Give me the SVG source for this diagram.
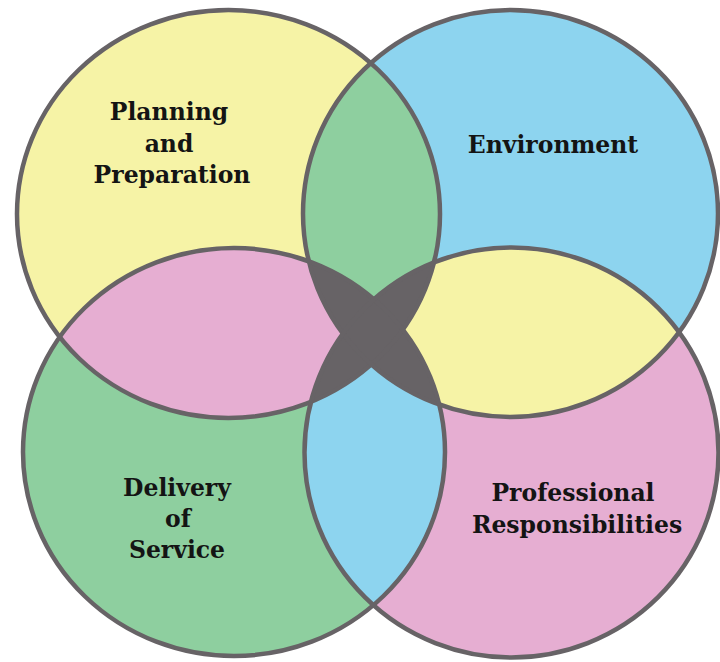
<svg xmlns="http://www.w3.org/2000/svg" width="720" height="662" viewBox="0 0 720 662">
<style>
.ring{fill:none;stroke:#676366;stroke-width:4.5}
.lbl{font-family:"DejaVu Serif","Liberation Serif",serif;font-weight:bold;font-size:23.5px;fill:#141414;text-anchor:middle}
.y{fill:#F6F3A6}.b{fill:#8DD4EF}.g{fill:#8ECF9F}.p{fill:#E6AED2}.d{fill:#676366}
</style>
<defs>
<clipPath id="cTL"><ellipse cx="228.5" cy="214" rx="211.5" ry="204"/></clipPath>
<clipPath id="cTR"><ellipse cx="510.5" cy="213.5" rx="207.5" ry="203.5"/></clipPath>
<clipPath id="cBL"><ellipse cx="234" cy="452" rx="211" ry="204"/></clipPath>
<clipPath id="cBR"><ellipse cx="511.5" cy="452.5" rx="207" ry="205"/></clipPath>
</defs>
<rect width="720" height="662" fill="#ffffff"/>
<g id="fills">
<ellipse class="y" cx="228.5" cy="214" rx="211.5" ry="204"/>
<ellipse class="b" cx="510.5" cy="213.5" rx="207.5" ry="203.5"/>
<ellipse class="g" cx="234" cy="452" rx="211" ry="204"/>
<ellipse class="p" cx="511.5" cy="452.5" rx="207" ry="205"/>
<ellipse class="g" cx="510.5" cy="213.5" rx="207.5" ry="203.5" clip-path="url(#cTL)"/>
<ellipse class="p" cx="234" cy="452" rx="211" ry="204" clip-path="url(#cTL)"/>
<ellipse class="y" cx="511.5" cy="452.5" rx="207" ry="205" clip-path="url(#cTR)"/>
<ellipse class="b" cx="511.5" cy="452.5" rx="207" ry="205" clip-path="url(#cBL)"/>
<ellipse class="d" cx="511.5" cy="452.5" rx="207" ry="205" clip-path="url(#cTL)"/>
<ellipse class="d" cx="234" cy="452" rx="211" ry="204" clip-path="url(#cTR)"/>
</g>
<g id="connectors"></g>
<g id="node-planning">
<ellipse class="ring" cx="228.5" cy="214" rx="211.5" ry="204"/>
<text class="lbl" x="169" y="120">Planning</text>
<text class="lbl" x="169" y="152">and</text>
<text class="lbl" x="172" y="183">Preparation</text>
</g>
<g id="node-environment">
<ellipse class="ring" cx="510.5" cy="213.5" rx="207.5" ry="203.5"/>
<text class="lbl" x="553" y="153">Environment</text>
</g>
<g id="node-delivery">
<ellipse class="ring" cx="234" cy="452" rx="211" ry="204"/>
<text class="lbl" x="177" y="496">Delivery</text>
<text class="lbl" x="178" y="527">of</text>
<text class="lbl" x="177" y="558">Service</text>
</g>
<g id="node-professional">
<ellipse class="ring" cx="511.5" cy="452.5" rx="207" ry="205"/>
<text class="lbl" x="573" y="501">Professional</text>
<text class="lbl" x="577" y="533">Responsibilities</text>
</g>
</svg>
